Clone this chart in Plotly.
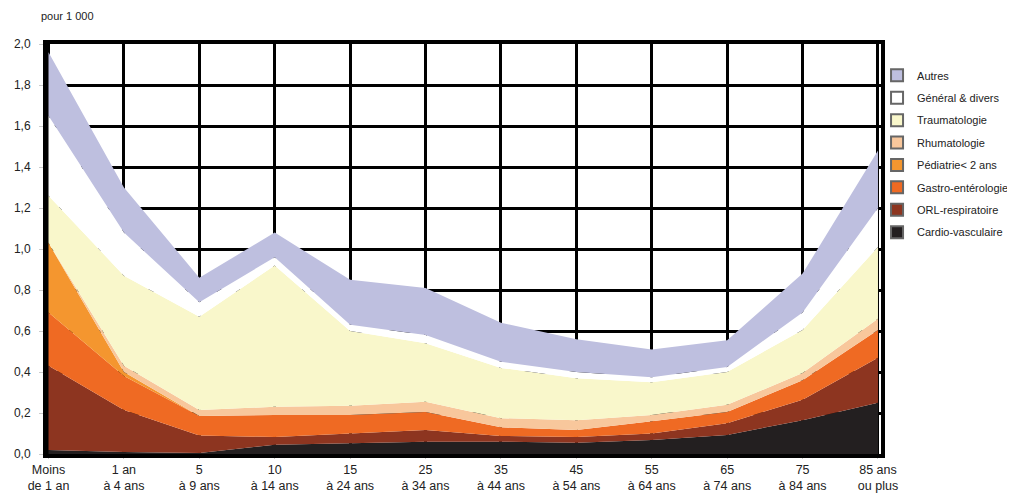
import plotly.graph_objects as go

categories = ["Moins<br>de 1 an", "1 an<br>à 4 ans", "5<br>à 9 ans", "10<br>à 14 ans",
              "15<br>à 24 ans", "25<br>à 34 ans", "35<br>à 44 ans", "45<br>à 54 ans",
              "55<br>à 64 ans", "65<br>à 74 ans", "75<br>à 84 ans", "85 ans<br>ou plus"]

cardio = [0.02, 0.01, 0.005, 0.045, 0.053, 0.06, 0.06, 0.055, 0.068, 0.093, 0.165, 0.25]
orl = [0.41, 0.205, 0.085, 0.038, 0.047, 0.057, 0.028, 0.028, 0.032, 0.057, 0.10, 0.22]
gastro = [0.26, 0.165, 0.095, 0.107, 0.09, 0.088, 0.042, 0.034, 0.06, 0.055, 0.095, 0.135]
pediatrie = [0.34, 0.02, 0, 0, 0, 0, 0, 0, 0, 0, 0, 0]
rhumato = [0.0, 0.03, 0.03, 0.04, 0.045, 0.05, 0.045, 0.048, 0.03, 0.035, 0.035, 0.055]
trauma = [0.23, 0.44, 0.455, 0.69, 0.365, 0.285, 0.245, 0.205, 0.16, 0.16, 0.21, 0.35]
general = [0.39, 0.21, 0.07, 0.04, 0.03, 0.04, 0.03, 0.03, 0.025, 0.025, 0.085, 0.19]
autres = [0.31, 0.22, 0.12, 0.12, 0.22, 0.23, 0.19, 0.16, 0.135, 0.13, 0.19, 0.28]

series = [
    ("Cardio-vasculaire", cardio, "#231f20"),
    ("ORL-respiratoire", orl, "#8d3520"),
    ("Gastro-entérologie", gastro, "#ef6a23"),
    ("Pédiatrie< 2 ans", pediatrie, "#f4962f"),
    ("Rhumatologie", rhumato, "#f8c79c"),
    ("Traumatologie", trauma, "#f9f7cb"),
    ("Général & divers", general, "#ffffff"),
    ("Autres", autres, "#bebfdf"),
]

xs = list(range(len(categories)))
fig = go.Figure()
for name, vals, col in series:
    fig.add_trace(go.Scatter(x=xs, y=vals, name=name, stackgroup="one", mode="lines",
                             line=dict(width=0, color=col), fillcolor=col,
                             showlegend=False, hoverinfo="name+y"))
for name, vals, col in reversed(series):
    fig.add_trace(go.Scatter(x=[None], y=[None], name=name, mode="markers", legendgroup=name,
                             marker=dict(symbol="square", size=9, color=col,
                                         line=dict(width=1, color="#666666"))))

font_main = "Liberation Sans, Arial, sans-serif"
fig.update_layout(
    template="none",
    width=1007, height=485,
    margin=dict(l=39, r=134, t=36, b=39, autoexpand=False),
    paper_bgcolor="white", plot_bgcolor="white",
    separators=", ",
    font=dict(family=font_main, size=13, color="#222222"),
    legend=dict(xref="container", yref="container", x=0.863, xanchor="left",
                y=0.891, yanchor="top",
                traceorder="grouped", font=dict(family=font_main, size=11),
                itemsizing="constant", tracegroupgap=3.4, bgcolor="rgba(0,0,0,0)"),
    xaxis=dict(range=[-0.02, 11.04], tickmode="array", tickvals=xs, ticktext=categories,
               showgrid=True, gridcolor="black", gridwidth=3, zeroline=False,
               showline=True, linecolor="black", linewidth=4, mirror=True,
               ticks="outside", ticklen=1, tickcolor="#cccccc", automargin=False,
               tickfont=dict(size=12.5)),
    yaxis=dict(range=[0, 2.0], tickmode="array", tickvals=[i * 0.2 for i in range(11)],
               tickformat=".1f", showgrid=True, gridcolor="black", gridwidth=3,
               zeroline=False, showline=True, linecolor="black", linewidth=4, mirror=True,
               ticks="outside", ticklen=4, tickcolor="#cccccc", automargin=False,
               ticklabelstandoff=6, tickfont=dict(size=12)),
    annotations=[dict(text="pour 1 000", xref="paper", yref="paper", x=-0.01, y=1.048,
                      xanchor="left", yanchor="bottom", showarrow=False,
                      font=dict(size=11, family=font_main))],
)
fig.write_html("out.html")
